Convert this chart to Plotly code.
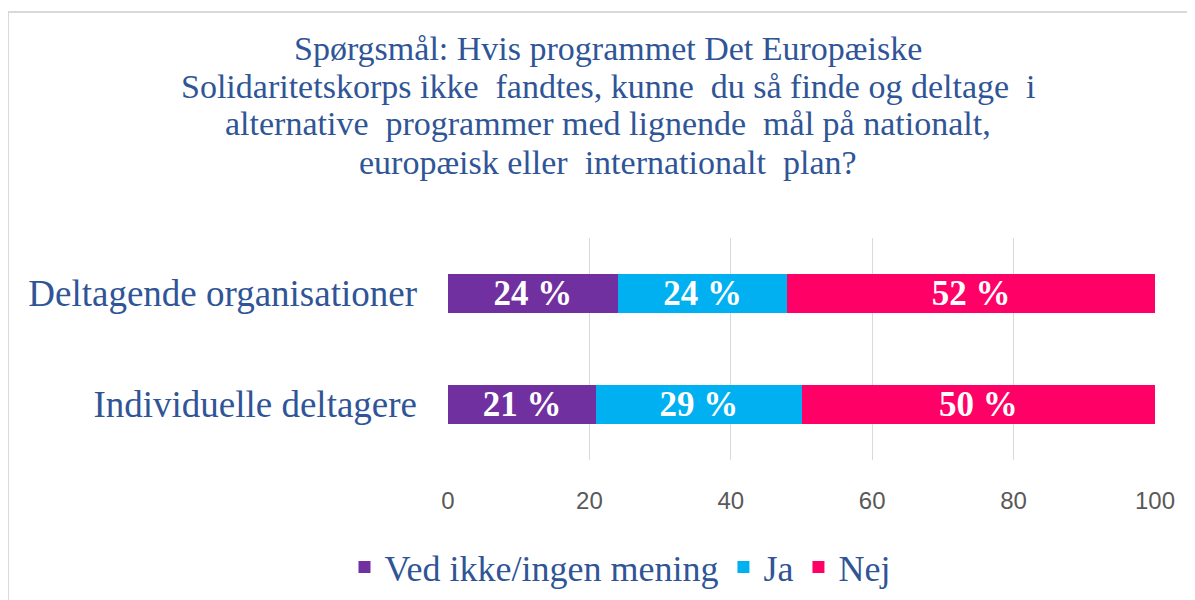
import plotly.graph_objects as go

categories = ["Deltagende organisationer", "Individuelle deltagere"]
series_names = ["Ved ikke/ingen mening", "Ja", "Nej"]
ved_ikke = [24, 21]
ja = [24, 29]
nej = [52, 50]
colors = ["#7030A0", "#00B0F0", "#FF0066"]
tick_vals = [0, 20, 40, 60, 80, 100]

title_lines = [
    "Spørgsmål: Hvis programmet Det Europæiske",
    "Solidaritetskorps ikke  fandtes, kunne  du så finde og deltage  i",
    "alternative  programmer med lignende  mål på nationalt,",
    "europæisk eller  internationalt  plan?",
]
title_line_y = [48, 86, 124, 162]  # screen px centre of each title line

serif = "Liberation Serif, Times New Roman, serif"
blue_text = "#2F5597"

fig = go.Figure()
for name, vals, col in zip(series_names, [ved_ikke, ja, nej], colors):
    fig.add_trace(go.Bar(
        y=categories, x=vals, name=name, orientation="h",
        marker=dict(color=col, line=dict(width=0)),
        width=0.35,
        text=[f"<b>{v} %</b>" for v in vals],
        textposition="inside", insidetextanchor="middle", textangle=0,
        constraintext="none",
        textfont=dict(family=serif, size=35, color="white"),
        hoverinfo="skip",
    ))

OFF = 8  # page body margin
W, H = 1195, 600
L, T = 448 - OFF, 238 - OFF
pw, ph = 707, 222
R, B = W - L - pw, H - T - ph


def px_x(x):
    return (x - OFF - L) / pw


def px_y(y):
    return (T + ph - (y - OFF)) / ph


annotations = [dict(
    text=line, xref="paper", yref="paper",
    x=px_x(608), y=px_y(yy), xanchor="center", yanchor="middle",
    showarrow=False, align="center",
    font=dict(family=serif, size=34, color=blue_text),
) for line, yy in zip(title_lines, title_line_y)]

fig.update_layout(
    width=W, height=H, barmode="stack",
    margin=dict(l=L, r=R, t=T, b=B, autoexpand=False),
    plot_bgcolor="white", paper_bgcolor="white",
    showlegend=True,
    legend=dict(orientation="h", traceorder="normal",
                x=px_x(620), xanchor="center",
                y=px_y(567), yanchor="middle",
                font=dict(family=serif, size=36, color=blue_text),
                tracegroupgap=0),
    xaxis=dict(range=[0, 100], tickvals=tick_vals, showgrid=True,
               gridcolor="#D9D9D9", gridwidth=1, zeroline=False,
               showline=False, ticks="", ticklabelstandoff=24,
               tickfont=dict(family="Liberation Sans, Arial, sans-serif", size=24, color="#595959"),
               fixedrange=True),
    yaxis=dict(categoryorder="array", categoryarray=categories[::-1],
               showgrid=False, zeroline=False, showline=False, ticks="",
               ticklabelstandoff=30,
               tickfont=dict(family=serif, size=37, color=blue_text),
               fixedrange=True),
    annotations=annotations,
    shapes=[dict(type="rect", xref="paper", yref="paper",
                 x0=px_x(8), x1=px_x(1300),
                 y0=px_y(700), y1=px_y(12),
                 line=dict(color="#D9D9D9", width=2), fillcolor="rgba(0,0,0,0)",
                 layer="below")],
)

fig.write_html("out.html")
